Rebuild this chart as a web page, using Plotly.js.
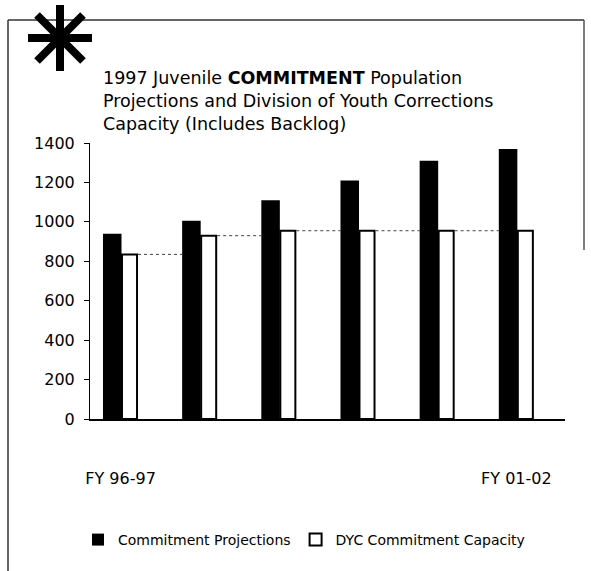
<!DOCTYPE html>
<html>
<head>
<meta charset="utf-8">
<script src="https://cdn.plot.ly/plotly-3.0.1.min.js"></script>
<style>html,body{margin:0;padding:0;background:#fff;}#chart{width:591px;height:571px;}</style>
</head>
<body>
<div id="chart"></div>
<script>
// ---- data ----
const years = ["FY 96-97", "FY 97-98", "FY 98-99", "FY 99-00", "FY 00-01", "FY 01-02"];
const projections = [940, 1005, 1110, 1210, 1310, 1370];
const capacity = [835, 930, 955, 955, 955, 955];
const tickLabels = ["FY 96-97", "FY 01-02"];
const yTicks = [0, 200, 400, 600, 800, 1000, 1200, 1400];

// ---- layout geometry ----
const W = 591, H = 571, L = 90, R = 26, T = 143, B = 152;
const pw = W - L - R, ph = H - T - B;
const px = p => (p - L) / pw;
const py = p => (H - B - p) / ph;

const idx = years.map((_, i) => i);
const projOffset = -0.336, projWidth = 0.234;
const capOffset = -0.096, capWidth = 0.19;
const FONT = "DejaVu Sans";

// dotted connectors: from each capacity bar's right edge to next projection bar at capacity level
const dotX = [], dotY = [];
for (let i = 0; i < capacity.length - 1; i++) {
  dotX.push(idx[i] + capOffset + capWidth + 0.012, idx[i + 1] + projOffset, null);
  dotY.push(capacity[i], capacity[i], null);
}

const traces = [
  {
    type: "bar", name: "Commitment Projections", x: idx, y: projections,
    width: projWidth, offset: projOffset,
    marker: { color: "#000", line: { color: "#000", width: 0 } },
    hoverinfo: "y"
  },
  {
    type: "bar", name: "DYC Commitment Capacity", x: idx, y: capacity,
    width: capWidth, offset: capOffset,
    marker: { color: "#fff", line: { color: "#000", width: 2 } },
    hoverinfo: "y"
  },
  {
    type: "scatter", mode: "lines", x: dotX, y: dotY, showlegend: false,
    line: { color: "#444", width: 1, dash: "dot" }, hoverinfo: "skip"
  }
];

// asterisk + frame
const cx = 60, cy = 38, r = 32, d = 23;
const seg = (x0, y0, x1, y1, w, c) => ({
  type: "line", xref: "paper", yref: "paper",
  x0: px(x0), y0: py(y0), x1: px(x1), y1: py(y1),
  line: { color: c, width: w }
});
const shapes = [
  seg(8, 20, 584, 20, 1.5, "#333"),
  seg(8, 20, 8, 575, 1.5, "#333"),
  seg(584, 20, 584, 250, 1.5, "#555"),
  seg(cx - r, cy, cx + r, cy, 8, "#000"),
  seg(cx, cy - r - 1, cx, cy + r + 1, 8, "#000"),
  seg(cx - d, cy - d, cx + d, cy + d, 8, "#000"),
  seg(cx - d, cy + d, cx + d, cy - d, 8, "#000")
];

const layout = {
  width: W, height: H,
  margin: { l: L, r: R, t: T, b: B, pad: 0 },
  paper_bgcolor: "#fff", plot_bgcolor: "#fff",
  font: { family: FONT, color: "#000", size: 16 },
  barmode: "overlay",
  showlegend: true,
  xaxis: {
    range: [-0.5, 5.5], showgrid: false, zeroline: false,
    showline: true, linecolor: "#000", linewidth: 1.5,
    tickmode: "array",
    tickvals: [idx[0] + projOffset + (projWidth + capWidth) / 2 + 0.01, idx[5] + projOffset + (projWidth + capWidth) / 2 + 0.01],
    ticktext: tickLabels, ticks: "", ticklabelstandoff: 44,
    tickfont: { family: FONT, size: 16, color: "#000" }, fixedrange: true
  },
  yaxis: {
    range: [0, 1400], showgrid: false, zeroline: false,
    showline: true, linecolor: "#000", linewidth: 1,
    tickmode: "array", tickvals: yTicks,
    ticks: "outside", ticklen: 5, tickcolor: "#000", tickwidth: 1,
    ticklabelstandoff: 6,
    tickfont: { family: FONT, size: 16, color: "#000" }, fixedrange: true
  },
  legend: {
    orientation: "h", x: px(78), xanchor: "left", y: py(540), yanchor: "middle",
    font: { family: FONT, size: 14, color: "#000" },
    bgcolor: "rgba(0,0,0,0)", traceorder: "normal"
  },
  annotations: [{
    xref: "paper", yref: "paper", x: px(101), y: py(66), xanchor: "left", yanchor: "top",
    align: "left", showarrow: false,
    text: "1997 Juvenile <b>COMMITMENT</b> Population<br>Projections and Division of Youth Corrections<br>Capacity (Includes Backlog)",
    font: { family: FONT, size: 17.5, color: "#000" }
  }],
  shapes: shapes
};

Plotly.newPlot("chart", traces, layout, { displayModeBar: false, staticPlot: true });
</script>
</body>
</html>
